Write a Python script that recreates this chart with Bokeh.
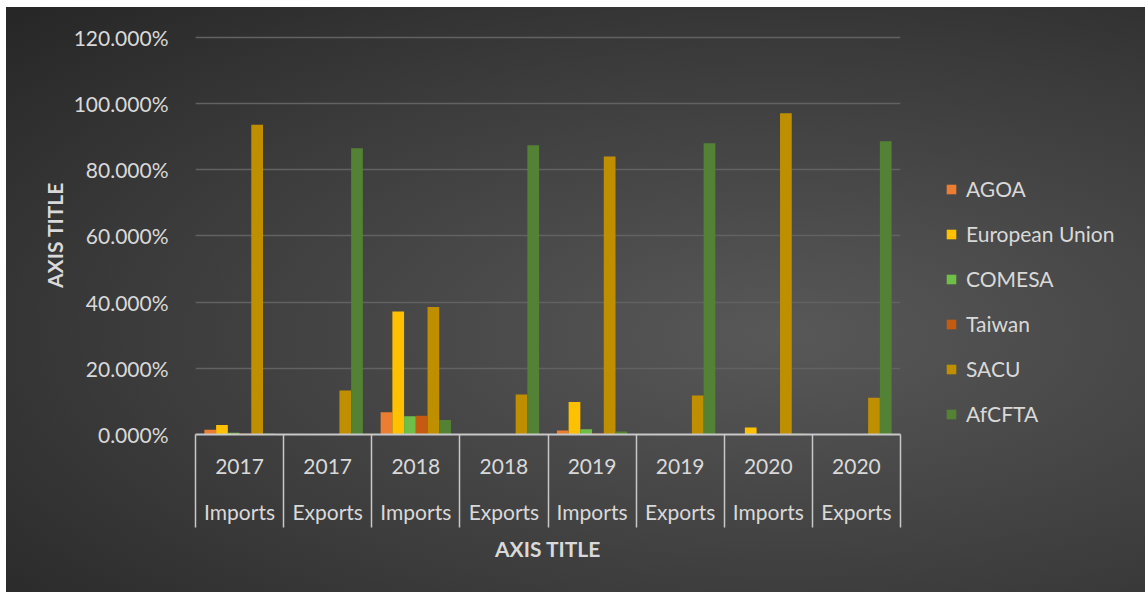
from bokeh.plotting import figure
from bokeh.models import (ColumnDataSource, FixedTicker, LinearAxis, Legend, LegendItem,
                          PrintfTickFormatter, Range1d)
from bokeh.transform import dodge
from bokeh.embed import file_html
from bokeh.resources import INLINE

# ---- data (percent) ----
years = ["2017", "2017", "2018", "2018", "2019", "2019", "2020", "2020"]
flows = ["Imports", "Exports", "Imports", "Exports", "Imports", "Exports", "Imports", "Exports"]
series_names = ["AGOA", "European Union", "COMESA", "Taiwan", "SACU", "AfCFTA"]
agoa = [1.4, 0.1, 6.7, 0.1, 1.2, 0.1, 0.1, 0.1]
eu = [2.9, 0.1, 37.2, 0.1, 9.8, 0.1, 2.1, 0.1]
comesa = [0.5, 0.05, 5.5, 0.05, 1.6, 0.05, 0.1, 0.05]
taiwan = [0.3, 0.05, 5.7, 0.05, 0.3, 0.05, 0.1, 0.05]
sacu = [93.6, 13.3, 38.5, 12.1, 84.0, 11.8, 97.1, 11.1]
afcfta = [0.3, 86.5, 4.4, 87.4, 0.9, 88.0, 0.3, 88.6]
y_ticks = [0, 20, 40, 60, 80, 100, 120]

colors = ["#ED7D31", "#FFC000", "#6EBE48", "#C55A11", "#BF8F00", "#548235"]
values = [agoa, eu, comesa, taiwan, sacu, afcfta]

FONT = "Lato"
FS = "21px"
TXT = "#D9D9D9"
LINE = "#C8C8C8"

centers = [i + 0.5 for i in range(len(years))]
data = {"x": centers}
for name, vals in zip(series_names, values):
    data[name] = vals
source = ColumnDataSource(data)

p = figure(frame_width=705, frame_height=399, output_backend="svg", toolbar_location=None,
           x_range=Range1d(0, len(years)), y_range=Range1d(0, 120.6),
           min_border_left=189, min_border_right=245, min_border_top=28, min_border_bottom=158)
p.margin = (7, 0, 0, 6)
p.styles = {"background": "radial-gradient(ellipse 70% 80% at 50% 56%, #585858 0%, #3b3b3b 60%, #262626 100%)"}
p.background_fill_alpha = 0
p.border_fill_alpha = 0
p.outline_line_color = None

bw = 0.133
renderers = []
for i, (name, col) in enumerate(zip(series_names, colors)):
    r = p.vbar(x=dodge("x", (i - 2.5) * bw, range=p.x_range), top=name, width=bw,
               source=source, fill_color=col, line_color=None)
    renderers.append(r)

# y axis
yt = FixedTicker(ticks=y_ticks)
p.yaxis.ticker = yt
p.yaxis.formatter = PrintfTickFormatter(format="%.3f%%")
p.yaxis.axis_line_color = None
p.yaxis.major_tick_line_color = None
p.yaxis.minor_tick_line_color = None
p.yaxis.major_label_text_font = FONT
p.yaxis.major_label_text_font_size = FS
p.yaxis.major_label_text_color = TXT
p.yaxis.major_label_standoff = 21
p.yaxis.axis_label = "AXIS TITLE"
p.yaxis.axis_label_text_font = FONT
p.yaxis.axis_label_text_font_size = FS
p.yaxis.axis_label_text_font_style = "bold"
p.yaxis.axis_label_text_color = TXT
p.yaxis.axis_label_standoff = 4

p.ygrid.ticker = yt
p.ygrid.grid_line_color = "#626262"
p.ygrid.grid_line_width = 1.5
p.xgrid.grid_line_color = None

# x axis 1: years + separators (negative standoff pulls labels back inside the separator length)
xa = p.xaxis[0]
xa.ticker = FixedTicker(ticks=centers, minor_ticks=list(range(len(years) + 1)))
xa.major_label_overrides = {c: y for c, y in zip(centers, years)}
xa.major_tick_line_color = None
xa.major_tick_out = 0
xa.major_tick_in = 0
xa.minor_tick_out = 93
xa.minor_tick_in = 0
xa.minor_tick_line_color = LINE
xa.minor_tick_line_width = 1.5
xa.axis_line_color = LINE
xa.axis_line_width = 2
xa.major_label_text_font = FONT
xa.major_label_text_font_size = FS
xa.major_label_text_color = TXT
xa.major_label_standoff = 24 - 93

# x axis 2: flows + title
xb = LinearAxis(ticker=FixedTicker(ticks=centers, minor_ticks=[]))
xb.major_label_overrides = {c: f for c, f in zip(centers, flows)}
xb.axis_line_color = None
xb.major_tick_line_color = None
xb.minor_tick_line_color = None
xb.major_tick_out = 0
xb.major_tick_in = 0
xb.major_label_text_font = FONT
xb.major_label_text_font_size = FS
xb.major_label_text_color = TXT
xb.major_label_standoff = 22
xb.axis_label = "AXIS TITLE"
xb.axis_label_text_font = FONT
xb.axis_label_text_font_size = FS
xb.axis_label_text_font_style = "bold"
xb.axis_label_text_color = TXT
xb.axis_label_standoff = 9
p.add_layout(xb, "below")

legend = Legend(items=[LegendItem(label=n, renderers=[r]) for n, r in zip(series_names, renderers)],
                location=(45, 8))
legend.background_fill_alpha = 0
legend.border_line_color = None
legend.padding = 0
legend.margin = 0
legend.glyph_width = 12
legend.glyph_height = 12
legend.label_standoff = 9
legend.spacing = 20
legend.label_text_font = FONT
legend.label_text_font_size = FS
legend.label_text_color = TXT
p.add_layout(legend, "right")

open("out.html", "w").write(file_html(p, INLINE))
